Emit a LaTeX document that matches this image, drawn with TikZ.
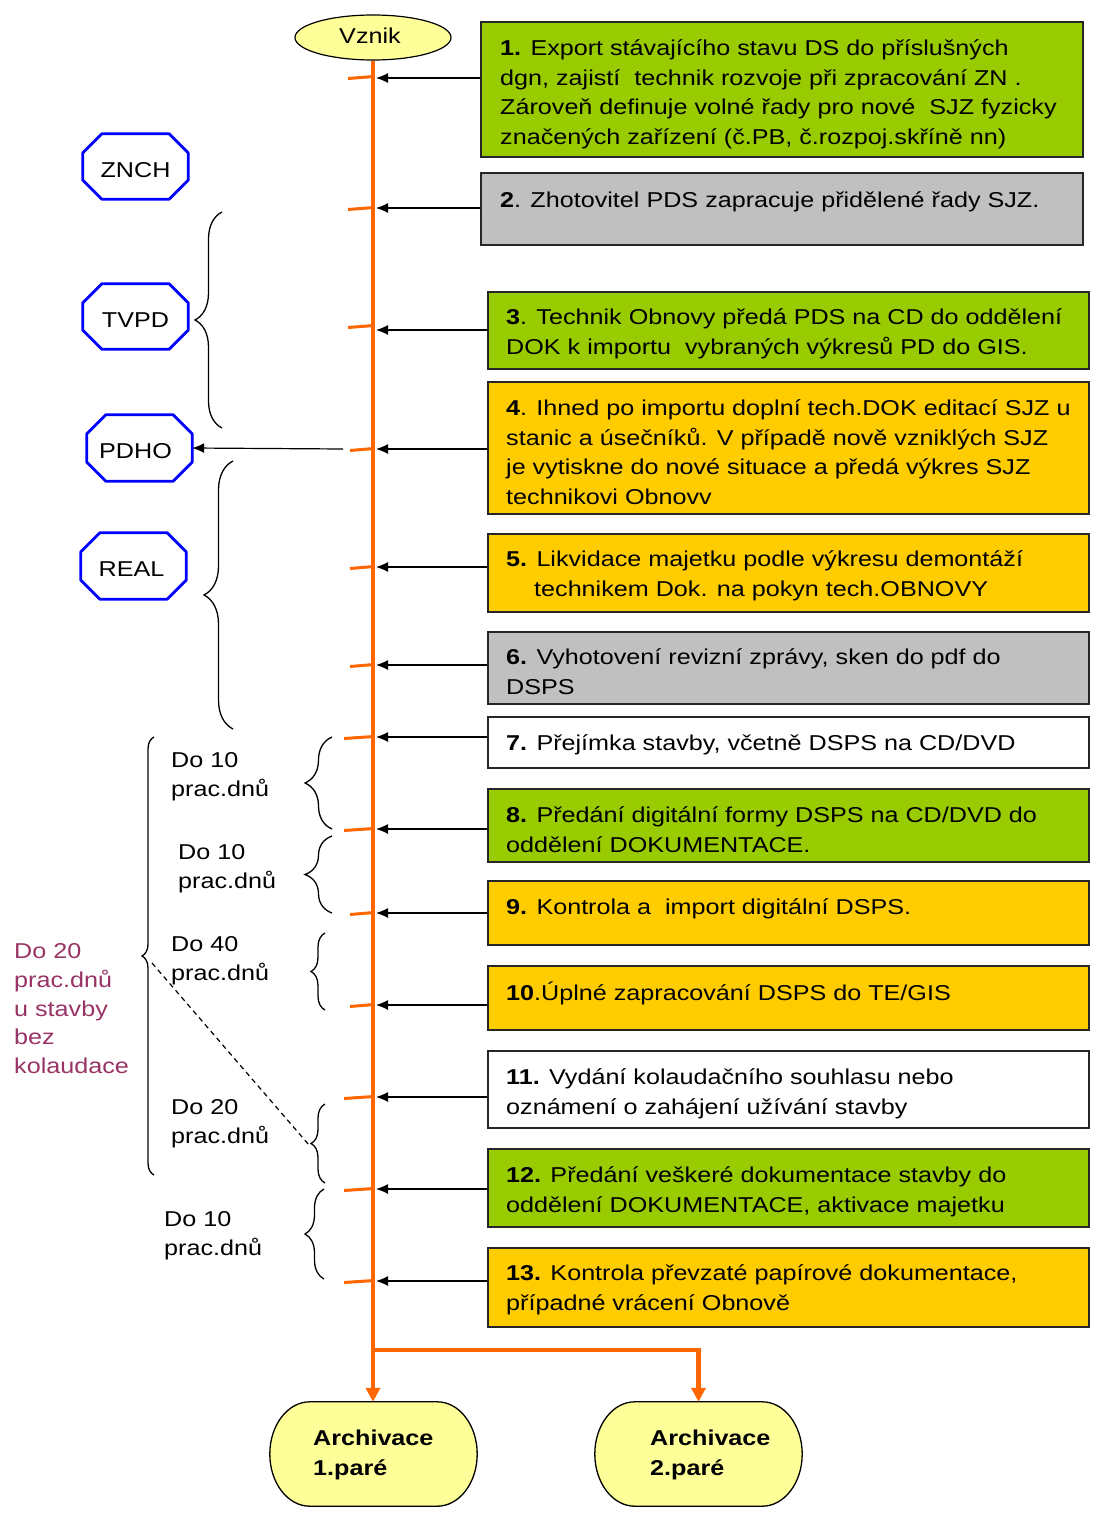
\documentclass[tikz,border=0pt]{standalone}
\usepackage{fontspec}
\setmainfont{Liberation Sans}[FakeStretch=1.17]
\usetikzlibrary{shapes.geometric,shapes.misc,arrows.meta,decorations.pathreplacing,calc}
\definecolor{cGreen}{HTML}{99CC00}
\definecolor{cGold}{HTML}{FFCC00}
\definecolor{cGray}{HTML}{C0C0C0}
\definecolor{cOrange}{HTML}{FF6600}
\definecolor{cYellow}{HTML}{FFFF99}
\definecolor{cPlum}{HTML}{993366}
\definecolor{cBlue}{HTML}{0000FF}
\newcommand\octapath[1]{\draw[octa] ($(#1.north west)+(19,0)$) -- ($(#1.north east)+(-19,0)$) -- ($(#1.north east)+(0,19)$) -- ($(#1.south east)+(0,-19)$) -- ($(#1.south east)+(-19,0)$) -- ($(#1.south west)+(19,0)$) -- ($(#1.south west)+(0,-19)$) -- ($(#1.north west)+(0,19)$) -- cycle;}
\newcommand\archpath[1]{\draw[archdraw] ($(#1.north west)+(40,0)$) -- ($(#1.north east)+(-40,0)$)
  .. controls ($(#1.north east)+(-18,0)$) and ($(#1.east)+(0,-29)$) .. (#1.east)
  .. controls ($(#1.east)+(0,29)$) and ($(#1.south east)+(-18,0)$) .. ($(#1.south east)+(-40,0)$)
  -- ($(#1.south west)+(40,0)$)
  .. controls ($(#1.south west)+(18,0)$) and ($(#1.west)+(0,29)$) .. (#1.west)
  .. controls ($(#1.west)+(0,-29)$) and ($(#1.north west)+(18,0)$) .. cycle;}
\begin{document}
\begin{tikzpicture}[x=1pt,y=-1pt,
  font=\fontsize{21.5}{29.5}\selectfont,
  box/.style={draw=black!85, line width=1.5pt, inner sep=0pt},
  txt/.style={anchor=base west, align=left, inner sep=0pt},
  side/.style={anchor=base west, align=left, inner sep=0pt, font=\fontsize{21.5}{29}\selectfont},
  arr/.style={draw=black, line width=1.2pt, -{Latex[length=12pt,width=10pt]}},
  tick/.style={draw=cOrange, line width=3pt},
  oline/.style={draw=cOrange, line width=4.5pt, -{Triangle[length=14pt,width=14pt]}},
  octa/.style={draw=cBlue, line width=2.8pt, line join=round},
  octnode/.style={minimum width=105pt, minimum height=65pt, inner sep=0pt},
  brc/.style={draw=black, line width=1.3pt, decorate},
  archnode/.style={minimum width=207pt, minimum height=104pt, inner sep=0pt},
  archdraw/.style={draw=black, line width=1.3pt, fill=cYellow},
]
\useasboundingbox (0,0) rectangle (1095,1517);

% start ellipse
\node[ellipse, draw=black, line width=1.2pt, fill=cYellow, minimum width=156pt, minimum height=45pt, inner sep=0pt] (vz) at (373,37.5) {};
\node[anchor=base] (vzt) at (370,44) {Vznik};

% archive shapes
\node[archnode] (ar1) at (373.5,1454) {};
\node[archnode] (ar2) at (698.5,1454) {};
\archpath{ar1}\archpath{ar2}
\node[txt, font=\fontsize{21.5}{30}\selectfont\bfseries] (ar1t) at (313,1475.7) {Archivace\\1.par\'e};
\node[txt, font=\fontsize{21.5}{30}\selectfont\bfseries] (ar2t) at (650,1475.7) {Archivace\\2.par\'e};

% main orange line and branch
\coordinate (br) at (374,1350);
\draw[oline] (vz.south) -- (vz.south |- ar1.north);
\draw[oline] (br) -- (br -| ar2.north) -- (ar2.north);

% boxes
\node[box, fill=cGreen, minimum width=602pt, minimum height=135pt] (b1) at (782,89.5) {};
\node[box, fill=cGray,  minimum width=602pt, minimum height=72pt]  (b2) at (782,209) {};
\node[box, fill=cGreen, minimum width=601pt, minimum height=77pt]  (b3) at (788.5,330.5) {};
\node[box, fill=cGold,  minimum width=601pt, minimum height=132pt] (b4) at (788.5,448) {};
\node[box, fill=cGold,  minimum width=601pt, minimum height=78pt]  (b5) at (788.5,573) {};
\node[box, fill=cGray,  minimum width=601pt, minimum height=72pt]  (b6) at (788.5,668) {};
\node[box, fill=white,  minimum width=601pt, minimum height=51pt]  (b7) at (788.5,742.5) {};
\node[box, fill=cGreen, minimum width=601pt, minimum height=73pt]  (b8) at (788.5,825.5) {};
\node[box, fill=cGold,  minimum width=601pt, minimum height=64pt]  (b9) at (788.5,913) {};
\node[box, fill=cGold,  minimum width=601pt, minimum height=64pt]  (b10) at (788.5,998) {};
\node[box, fill=white,  minimum width=601pt, minimum height=77pt]  (b11) at (788.5,1089.5) {};
\node[box, fill=cGreen, minimum width=601pt, minimum height=78pt]  (b12) at (788.5,1188) {};
\node[box, fill=cGold,  minimum width=601pt, minimum height=79pt]  (b13) at (788.5,1287.5) {};

% box texts (anchor = baseline of the last line)
\node[txt] (t1) at (500,144.2) {\textbf{1.} Export stávajícího stavu DS do příslušných\\dgn, zajistí\ \ technik rozvoje při zpracování ZN .\\Zároveň definuje volné řady pro nové\ \ SJZ fyzicky\\značených zařízení (č.PB, č.rozpoj.skříně nn)};
\node[txt] (t2) at (500,207.7) {\textbf{2}. Zhotovitel PDS zapracuje přidělené řady SJZ.};
\node[txt] (t3) at (506,354.2) {\textbf{3}. Technik Obnovy předá PDS na CD do oddělení\\DOK k importu\ \ vybraných výkresů PD do GIS.};
\node[txt] (t4) at (506,504.2) {\textbf{4}. Ihned po importu doplní tech.DOK editací SJZ u\\stanic a úsečníků. V případě nově vzniklých SJZ\\je vytiskne do nové situace a předá výkres SJZ\\technikovi Obnovv};
\node[txt] (t5) at (506,596.2) {\textbf{5.} Likvidace majetku podle výkresu demontáží\\\hspace*{28pt}technikem Dok. na pokyn tech.OBNOVY};
\node[txt] (t6) at (506,694.2) {\textbf{6.} Vyhotovení revizní zprávy, sken do pdf do\\DSPS};
\node[txt] (t7) at (506,750.7) {\textbf{7.} Přejímka stavby, včetně DSPS na CD/DVD};
\node[txt] (t8) at (506,852.2) {\textbf{8.} Předání digitální formy DSPS na CD/DVD do\\oddělení DOKUMENTACE.};
\node[txt] (t9) at (506,914.7) {\textbf{9.} Kontrola a\ \ import digitální DSPS.};
\node[txt] (t10) at (506,1000.7) {\textbf{10}.Úplné zapracování DSPS do TE/GIS};
\node[txt] (t11) at (506,1114.2) {\textbf{11.} Vydání kolaudačního souhlasu nebo\\oznámení o zahájení užívání stavby};
\node[txt] (t12) at (506,1212.2) {\textbf{12.} Předání veškeré dokumentace stavby do\\oddělení DOKUMENTACE, aktivace majetku};
\node[txt] (t13) at (506,1310.2) {\textbf{13.} Kontrola převzaté papírové dokumentace,\\případné vrácení Obnově};

% points on the main line, ticks and arrows
\foreach \i/\y/\tx in {1/78/348, 2/208/348, 3/330/348, 4/449/350, 5/567/350, 6/665/350, 7/737/344, 8/829/344, 9/913/350, 10/1005/350, 11/1097/344, 12/1189/344, 13/1281/344}{
  \coordinate (k\i) at (376,\y);
  \coordinate (m\i) at (\tx,\y+1.5);
}
\foreach \i/\y in {1/77, 2/208, 3/326, 4/449, 5/567, 6/665, 7/737, 8/829, 9/913, 10/1005, 11/1097, 12/1189, 13/1281}{
  \draw[tick] (m\i |- 0,\y+1.5) -- (374,\y-0.5);
}
\foreach \i in {1,...,13}{
  \draw[arr] (b\i.west |- k\i) -- (k\i);
}

% octagons
\node[octnode] (znch) at (135.5,166.5) {};
\node[octnode] (tvpd) at (135.5,316.5) {};
\node[octnode, minimum height=66pt] (pdho) at (139.5,448) {};
\node[octnode, minimum height=66pt] (real) at (133.5,566) {};
\octapath{znch}\octapath{tvpd}\octapath{pdho}\octapath{real}
\node (znchT) at ($(znch)+(0,3.5)$) {ZNCH};
\node (tvpdT) at ($(tvpd)+(0,3.5)$) {TVPD};
\node (pdhoT) at ($(pdho)+(-4,3.5)$) {PDHO};
\node (realT) at ($(real)+(-2,3.5)$) {REAL};

% PDHO arrow
\coordinate (pd) at (343,449);
\draw[arr] (pd) -- (pdho.east);

% braces
\draw[brc, decoration={brace, amplitude=27pt}] (222,428) -- (222,212);
\draw[brc, decoration={brace, amplitude=29pt}] (233,729) -- (233,461);
\draw[brc, decoration={brace, amplitude=12pt}] (154,1175) -- (154,737);
\draw[brc, decoration={brace, amplitude=27pt}] (332,829) -- (332,737);
\draw[brc, decoration={brace, amplitude=27pt}] (332,913) -- (332,836);
\draw[brc, decoration={brace, amplitude=14pt}] (325,1010) -- (325,933);
\draw[brc, decoration={brace, amplitude=14pt}] (325,1183) -- (325,1104);
\draw[brc, decoration={brace, amplitude=19pt}] (324,1279) -- (324,1189);

% dashed line
\coordinate (d1) at (152,963);
\coordinate (d2) at (309,1145);
\draw[line width=1.2pt, dash pattern=on 5pt off 4pt] (d1) -- (d2);

% duration labels (anchor = baseline of the last line)
\node[side] (s1) at (171,796.5) {Do 10\\prac.dnů};
\node[side] (s2) at (178,888.5) {Do 10\\prac.dnů};
\node[side] (s3) at (171,980.5) {Do 40\\prac.dnů};
\node[side] (s4) at (171,1143.5) {Do 20\\prac.dnů};
\node[side] (s5) at (164,1255.5) {Do 10\\prac.dnů};
\node[side, text=cPlum, font=\fontsize{21.5}{28.8}\selectfont] (s6) at (14,1073.7) {Do 20\\prac.dnů\\u stavby\\bez\\kolaudace};
\end{tikzpicture}
\end{document}
